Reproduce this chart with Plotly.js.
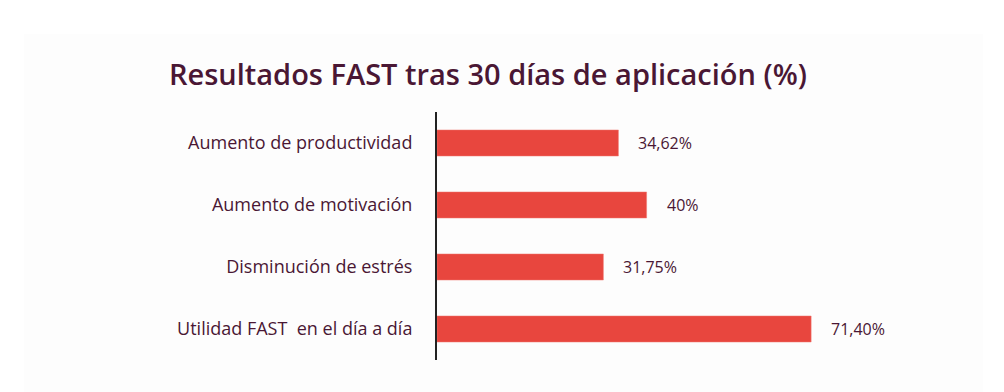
<!DOCTYPE html>
<html>
<head>
<meta charset="utf-8">
<script src="https://cdn.plot.ly/plotly-3.0.1.min.js"></script>
<style>html,body{margin:0;padding:0;background:#fff;}#chart{width:1004px;height:392px;}</style>
</head>
<body>
<div id="chart"></div>
<script>
const categories = ["Aumento de productividad", "Aumento de motivación", "Disminución de estrés", "Utilidad FAST  en el día a día"];
const values = [34.62, 40, 31.75, 71.40];
const valueLabels = ["34,62%", "40%", "31,75%", "71,40%"];

const textColor = "#4a1734";
const barColor = "#e8463e";

const trace = {
  type: "bar",
  orientation: "h",
  y: categories,
  x: values,
  width: 0.42,
  marker: {color: barColor, line: {color: "#f07a72", width: 0.5}},
  hoverinfo: "skip"
};

const annotations = categories.map((c, i) => ({
  x: values[i], y: c, xref: "x", yref: "y",
  text: valueLabels[i], showarrow: false,
  xanchor: "left", yanchor: "middle", xshift: 18,
  font: {family: "Open Sans, sans-serif", size: 16, color: textColor}
}));

const layout = {
  width: 1004, height: 392,
  margin: {l: 437, r: 43, t: 112, b: 32},
  paper_bgcolor: "#ffffff",
  plot_bgcolor: "rgba(0,0,0,0)",
  showlegend: false,
  title: {
    text: "Resultados FAST tras 30 días de aplicación (%)",
    x: 0.486, xref: "container", xanchor: "center",
    y: 0.81, yref: "container", yanchor: "middle",
    font: {family: "Open Sans, sans-serif", size: 29, color: textColor, weight: 600}
  },
  xaxis: {range: [0, 100], visible: false, fixedrange: true},
  yaxis: {
    autorange: "reversed",
    showline: true, linecolor: "#222222", linewidth: 2,
    showgrid: false, zeroline: false, ticks: "",
    ticklabelstandoff: 19,
    tickfont: {family: "Open Sans, sans-serif", size: 18, color: textColor}
  },
  shapes: [{
    type: "rect", xref: "paper", yref: "paper", layer: "below",
    x0: (24 - 437) / 524, x1: (983 - 437) / 524,
    y0: -32 / 248, y1: (392 - 34 - 32) / 248,
    fillcolor: "#fdfdfd", line: {width: 0}
  }],
  annotations: annotations
};

Plotly.newPlot("chart", [trace], layout, {displayModeBar: false, staticPlot: true});
</script>
</body>
</html>
